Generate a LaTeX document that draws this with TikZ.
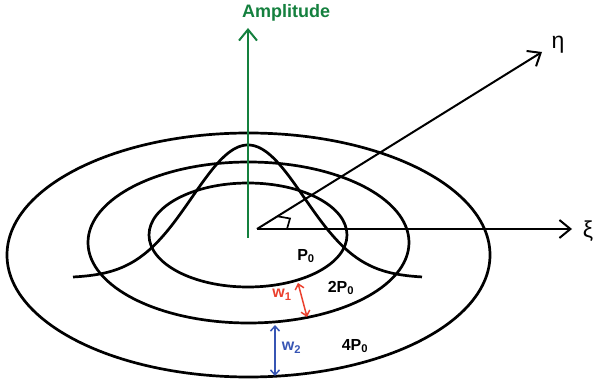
\documentclass[tikz,border=0pt]{standalone}
\usepackage{fontspec}
\setmainfont{Liberation Sans}
\usetikzlibrary{arrows.meta}
\definecolor{ampgreen}{RGB}{20,128,62}
\definecolor{wred}{RGB}{235,64,45}
\definecolor{wblue}{RGB}{55,85,180}
\begin{document}
\begin{tikzpicture}[x=1pt,y=-1pt,
  curve/.style={line width=2.7pt},
  axis/.style={line width=2pt, -{Straight Barb[length=11pt,width=18pt,line width=2pt]}},
  lbl/.style={font=\bfseries\fontsize{16}{16}\selectfont, inner sep=0pt},
  greek/.style={font=\fontsize{23}{23}\selectfont, inner sep=0pt},
  warrow/.style={line width=1.5pt, {Straight Barb[length=5pt,width=9pt]}-{Straight Barb[length=5pt,width=9pt]}}]
\useasboundingbox (0,0) rectangle (598,382);
% ellipses
\draw[curve] (248.5,255) ellipse [x radius=241.5pt, y radius=122pt];
\draw[curve] (248.5,242.5) ellipse [x radius=160.5pt, y radius=80.5pt];
\draw[curve] (248,235) ellipse [x radius=99pt, y radius=52pt];
% gaussian
\draw[curve] plot[domain=73:422, samples=160, smooth] (\x, {278-133*exp(-0.5*((\x-248)/56)^2)});
% axes
\coordinate (O) at (257,229);
\coordinate (xiEnd) at (572,229);
\coordinate (etaEnd) at (542,52);
\coordinate (ampStart) at (248,238);
\coordinate (ampEnd) at (248,28);
\draw[axis] (O) -- (xiEnd);
\draw[axis] (O) -- (etaEnd);
\draw[axis, ampgreen] (ampStart) -- (ampEnd);
\draw[line width=1.7pt] (277.5,216.3) -- (290,218.5) -- (287,229);
% labels
\node[font=\bfseries\fontsize{18}{18}\selectfont, text=ampgreen, inner sep=0pt, anchor=base west] (amp) at (242,18) {Amplitude};
\node[greek] (eta) at (558,45) {η};
\node[greek] (xi) at (588,231) {ξ};
\node[lbl] (p0) at (306,256) {P\textsubscript{0}};
\node[lbl] (p2) at (341,288) {2P\textsubscript{0}};
\node[lbl] (p4) at (355,346) {4P\textsubscript{0}};
\node[lbl, text=wred] (w1) at (282,295) {w\textsubscript{1}};
\node[lbl, text=wblue] (w2) at (291.5,348) {w\textsubscript{2}};
% width arrows
\coordinate (w1a) at (298,283);
\coordinate (w1b) at (307,317);
\coordinate (w2a) at (275,325);
\coordinate (w2b) at (275,376);
\draw[warrow, wred] (w1a) -- (w1b);
\draw[warrow, wblue] (w2a) -- (w2b);
\end{tikzpicture}
\end{document}
